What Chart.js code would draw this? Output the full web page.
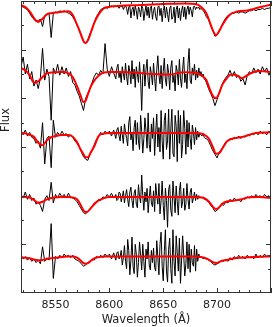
<!DOCTYPE html>
<html>
<head>
<meta charset="utf-8">
<script src="https://cdn.jsdelivr.net/npm/chart.js@4.4.1/dist/chart.umd.min.js"></script>
<style>
  html, body { margin: 0; padding: 0; background: #fff; }
  #wrap { width: 273px; height: 327px; }
</style>
</head>
<body>
<div id="wrap"><canvas id="spectraChart" width="273" height="327"></canvas></div>
<script>
// observed spectra: 2 A steps, 1 A steps through the noisy sky band
const waveGrid = [
  8518, 8520, 8522, 8524, 8526, 8528, 8530, 8532, 8534, 8536,
  8538, 8540, 8542, 8544, 8546, 8548, 8550, 8552, 8554, 8556,
  8558, 8560, 8562, 8564, 8566, 8568, 8570, 8572, 8574, 8576,
  8578, 8580, 8582, 8584, 8586, 8588, 8590, 8592, 8594, 8596,
  8598, 8600, 8602, 8604,
  8606, 8607, 8608, 8609, 8610, 8611, 8612, 8613, 8614, 8615,
  8616, 8617, 8618, 8619, 8620, 8621, 8622, 8623, 8624, 8625,
  8626, 8627, 8628, 8629, 8630, 8631, 8632, 8633, 8634, 8635,
  8636, 8637, 8638, 8639, 8640, 8641, 8642, 8643, 8644, 8645,
  8646, 8647, 8648, 8649, 8650, 8651, 8652, 8653, 8654, 8655,
  8656, 8657, 8658, 8659, 8660, 8661, 8662, 8663, 8664, 8665,
  8666, 8667, 8668, 8669, 8670, 8671, 8672, 8673, 8674, 8675,
  8676, 8677, 8678, 8679, 8680, 8681, 8682, 8683, 8684, 8685,
  8686, 8687, 8688, 8689, 8690,
  8692, 8694, 8696, 8698, 8700, 8702, 8704, 8706, 8708, 8710,
  8712, 8714, 8716, 8718, 8720, 8722, 8724, 8726, 8728, 8730,
  8732, 8734, 8736, 8738, 8740, 8742, 8744, 8746, 8748, 8750
];

const flux1 = [
  1.06, 1.05, 1.04, 1.03, 1.00, 0.97, 0.95, 0.93, 0.94, 0.95,
  0.89, 0.98, 0.99, 1.00, 0.80, 1.00, 1.01, 1.00, 1.02, 1.01,
  1.02, 1.01, 1.00, 0.99, 0.97, 0.94, 0.90, 0.86, 0.81, 0.77,
  0.75, 0.78, 0.83, 0.87, 0.92, 0.97, 1.00, 1.03, 1.04, 1.05,
  1.04, 1.05, 1.06, 1.05,
  1.06, 1.05, 1.06, 1.04, 1.06, 1.05, 1.06, 1.03, 1.05, 1.06,
  1.04, 0.99, 1.05, 1.06, 0.96, 1.03, 1.05, 0.98, 1.06, 1.02,
  0.95, 1.05, 1.03, 0.97, 1.06, 1.04, 0.94, 1.01, 1.06, 0.98,
  1.05, 0.96, 1.04, 1.06, 0.95, 1.02, 1.05, 0.97, 0.94, 1.05,
  1.06, 0.98, 1.04, 0.93, 1.02, 1.06, 0.96, 1.05, 0.99, 0.93,
  1.04, 1.06, 0.95, 0.97, 1.05, 0.92, 1.03, 1.06, 0.96, 1.04,
  0.94, 1.02, 1.06, 0.97, 1.05, 0.95, 1.03, 1.06, 0.99, 1.05,
  1.02, 0.97, 1.05, 1.06, 1.03, 1.05, 1.04, 1.05, 1.03, 1.04,
  1.03, 1.02, 1.01, 0.99, 0.97,
  0.95, 0.90, 0.86, 0.81, 0.82, 0.85, 0.89, 0.93, 0.96, 0.98,
  0.99, 1.00, 1.00, 1.01, 1.00, 1.01, 1.01, 1.00, 1.01, 1.02,
  1.02, 1.03, 1.02, 1.03, 1.03, 1.04, 1.03, 1.04, 1.04, 1.05
];

const flux2 = [
  1.06, 1.14, 1.00, 1.08, 0.96, 1.02, 0.90, 0.95, 0.88, 0.97,
  1.21, 0.95, 1.04, 0.98, 0.62, 1.05, 1.00, 1.08, 0.99, 1.06,
  1.00, 1.05, 0.98, 1.02, 0.93, 0.91, 0.86, 0.82, 0.76, 0.70,
  0.80, 0.84, 0.88, 0.93, 0.98, 1.01, 0.99, 1.03, 1.00, 1.25,
  1.04, 0.98, 1.06, 1.01,
  0.96, 1.05, 1.08, 0.97, 1.02, 0.93, 1.06, 1.00, 0.95, 1.09,
  0.98, 0.91, 1.07, 1.02, 0.92, 1.11, 0.96, 1.04, 0.89, 1.06,
  1.00, 0.93, 1.10, 0.95, 0.70, 0.99, 1.08, 0.90, 1.04, 1.12,
  0.94, 0.88, 1.06, 1.00, 0.91, 1.09, 0.97, 0.86, 1.04, 1.15,
  0.99, 0.92, 1.07, 0.88, 1.02, 1.13, 0.95, 0.90, 1.08, 1.01,
  0.87, 1.05, 1.11, 0.93, 0.99, 0.86, 1.07, 1.02, 0.91, 1.12,
  0.96, 0.89, 1.04, 1.14, 0.93, 1.00, 0.88, 1.09, 1.21, 0.95,
  0.92, 1.05, 0.99, 1.08, 0.95, 1.03, 0.97, 1.05, 0.99, 1.02,
  0.98, 1.00, 0.96, 0.95, 0.93,
  0.88, 0.84, 0.80, 0.74, 0.79, 0.85, 0.90, 0.94, 0.97, 0.99,
  1.03, 0.98, 1.02, 0.97, 0.99, 0.94, 0.96, 0.91, 0.99, 1.02,
  1.00, 1.05, 1.01, 1.04, 1.00, 1.06, 1.02, 1.05, 0.99, 1.03
];

const flux3 = [
  1.03, 1.00, 1.04, 0.99, 1.02, 0.98, 0.97, 0.93, 0.95, 0.89,
  1.10, 0.76, 0.97, 0.99, 0.73, 1.12, 0.98, 1.02, 0.99, 1.03,
  1.00, 1.01, 0.98, 1.00, 0.98, 0.95, 0.93, 0.90, 0.86, 0.82,
  0.80, 0.79, 0.84, 0.87, 0.92, 0.96, 0.99, 1.02, 1.00, 1.03,
  1.01, 1.03, 0.99, 1.04,
  0.97, 1.04, 1.06, 0.99, 0.95, 1.07, 1.00, 0.93, 1.09, 1.02,
  0.97, 0.91, 1.10, 1.15, 0.96, 1.01, 0.87, 1.06, 1.12, 0.92,
  1.10, 0.95, 0.88, 1.16, 1.03, 0.85, 0.97, 1.14, 1.03, 0.89,
  1.18, 0.92, 0.86, 1.09, 0.97, 1.14, 0.83, 1.02, 1.17, 0.90,
  1.06, 0.86, 1.20, 0.95, 0.80, 1.12, 1.18, 0.88, 0.95, 1.21,
  0.80, 1.04, 1.21, 0.85, 0.82, 1.16, 1.07, 0.78, 1.20, 0.93,
  1.16, 0.81, 0.92, 1.20, 1.05, 0.84, 1.12, 0.90, 1.10, 0.97,
  0.88, 1.08, 1.02, 0.92, 1.06, 0.96, 1.03, 0.98, 1.01, 1.00,
  0.99, 1.01, 0.98, 0.97, 0.97,
  0.95, 0.91, 0.87, 0.84, 0.81, 0.86, 0.88, 0.91, 0.94, 0.95,
  0.97, 0.96, 0.98, 0.97, 0.99, 0.97, 0.99, 0.98, 1.00, 0.99,
  1.01, 1.00, 1.02, 1.00, 1.03, 1.01, 1.02, 1.00, 1.03, 1.02
];

const flux4 = [
  1.01, 0.98, 1.03, 0.97, 1.01, 0.96, 0.98, 0.93, 0.95, 0.92,
  0.87, 0.97, 1.00, 0.96, 1.11, 0.94, 1.01, 0.98, 1.02, 0.99,
  1.01, 0.98, 1.02, 0.99, 0.98, 0.97, 0.95, 0.92, 0.89, 0.86,
  0.85, 0.87, 0.89, 0.91, 0.94, 0.95, 0.97, 0.96, 0.99, 0.98,
  1.01, 0.99, 1.02, 0.98,
  1.01, 0.96, 0.97, 1.03, 1.02, 0.95, 0.99, 1.04, 0.94, 1.00,
  1.05, 0.97, 0.91, 1.03, 1.07, 0.96, 0.90, 1.02, 1.05, 0.93,
  0.90, 1.09, 0.99, 0.94, 1.17, 1.00, 0.88, 1.03, 0.95, 1.06,
  0.86, 0.98, 1.08, 0.94, 0.91, 1.04, 0.87, 1.10, 1.00, 0.93,
  1.10, 0.85, 0.96, 1.12, 0.92, 0.80, 1.06, 0.96, 0.74, 1.05,
  1.09, 0.88, 0.83, 1.12, 0.99, 0.86, 1.08, 0.95, 0.84, 1.04,
  1.11, 0.90, 0.95, 1.06, 0.88, 0.93, 1.10, 0.97, 0.89, 1.03,
  1.06, 0.94, 0.98, 1.03, 0.96, 1.01, 0.97, 1.00, 0.98, 0.99,
  0.98, 0.99, 0.97, 0.97, 0.96,
  0.95, 0.92, 0.90, 0.87, 0.88, 0.90, 0.93, 0.92, 0.95, 0.94,
  0.97, 0.95, 0.98, 0.96, 0.97, 0.95, 0.98, 0.97, 0.99, 0.98,
  1.00, 0.98, 1.01, 0.99, 1.00, 0.98, 1.01, 0.99, 1.00, 0.98
];

const flux5 = [
  1.01, 0.98, 1.00, 0.97, 0.99, 0.96, 0.98, 0.95, 0.97, 0.94,
  1.08, 0.96, 0.99, 0.97, 1.27, 0.82, 1.00, 0.98, 1.01, 0.99,
  1.02, 1.00, 1.01, 0.99, 1.01, 0.98, 0.97, 0.96, 0.94, 0.92,
  0.93, 0.95, 0.96, 0.98, 0.97, 1.00, 0.99, 1.01, 0.99, 1.02,
  1.00, 1.02, 0.98, 1.03,
  0.97, 1.03, 1.04, 0.98, 1.00, 1.05, 0.93, 0.99, 1.09, 0.96,
  0.90, 1.14, 1.05, 0.85, 0.97, 1.16, 0.92, 0.86, 1.10, 1.02,
  0.83, 0.95, 1.12, 1.01, 0.89, 1.10, 0.96, 0.83, 1.06, 0.98,
  1.12, 0.93, 0.89, 1.05, 0.95, 1.07, 0.91, 0.88, 1.13, 0.99,
  0.85, 1.10, 1.20, 0.92, 0.80, 1.04, 1.22, 0.88, 0.79, 1.06,
  1.15, 0.90, 0.78, 1.22, 0.96, 0.84, 1.17, 1.03, 0.88, 1.15,
  0.78, 0.97, 1.17, 1.01, 0.84, 0.94, 1.12, 0.90, 1.10, 0.87,
  1.06, 0.95, 0.92, 1.09, 0.88, 1.06, 0.96, 1.02, 0.99, 1.00,
  0.99, 0.98, 0.99, 0.98, 0.98,
  0.97, 0.96, 0.94, 0.93, 0.94, 0.95, 0.97, 0.96, 0.98, 0.96,
  0.99, 0.97, 1.00, 0.98, 1.01, 0.99, 1.00, 0.98, 1.01, 0.99,
  1.00, 0.98, 1.02, 0.99, 1.01, 0.99, 1.02, 1.00, 1.01, 1.00
];

// fitted models (red)
const modelWave = [
  8518, 8522, 8526, 8530, 8534, 8538, 8542, 8546, 8550, 8556,
  8562, 8566, 8570, 8573, 8576, 8578, 8580, 8583, 8586, 8590,
  8595, 8600, 8610, 8625, 8640, 8655, 8670, 8680, 8686, 8690,
  8693, 8696, 8699, 8702, 8705, 8709, 8713, 8718, 8723, 8728,
  8734, 8740, 8745, 8750
];

const model1 = [
  1.067, 1.05, 1.015, 0.96, 0.928, 0.955, 0.99, 1.0, 1.005, 1.012,
  1.015, 0.985, 0.905, 0.84, 0.77, 0.755, 0.775, 0.845, 0.92, 0.99,
  1.04, 1.053, 1.06, 1.066, 1.072, 1.077, 1.08, 1.075, 1.045, 1.0,
  0.93, 0.86, 0.82, 0.855, 0.905, 0.96, 0.995, 1.012, 1.018, 1.022,
  1.035, 1.05, 1.06, 1.07
];

const model2 = [
  1.048, 1.03, 0.99, 0.93, 0.94, 0.975, 1.005, 1.012, 1.015, 1.016,
  1.005, 0.975, 0.9, 0.83, 0.77, 0.78, 0.83, 0.9, 0.945, 0.985,
  1.012, 1.016, 1.016, 1.01, 1.0, 0.995, 1.015, 1.01, 0.985, 0.95,
  0.88, 0.82, 0.8, 0.845, 0.915, 0.965, 0.995, 0.99, 0.966, 0.99,
  1.017, 1.024, 1.02, 1.016
];

const model3 = [
  1.015, 1.012, 1.0, 0.985, 0.935, 0.915, 0.955, 0.98, 0.99, 0.998,
  0.998, 0.985, 0.94, 0.885, 0.84, 0.815, 0.815, 0.86, 0.905, 0.99,
  1.01, 1.015, 1.015, 1.015, 1.015, 1.015, 1.015, 1.015, 1.01, 0.99,
  0.96, 0.9, 0.845, 0.85, 0.89, 0.945, 0.965, 0.975, 0.982, 0.995,
  1.012, 1.018, 1.02, 1.023
];

const model4 = [
  0.99, 0.99, 0.985, 0.965, 0.94, 0.95, 0.97, 0.98, 0.985, 0.99,
  0.99, 0.985, 0.97, 0.93, 0.88, 0.865, 0.87, 0.9, 0.93, 0.96,
  0.98, 0.99, 0.99, 0.99, 0.99, 0.99, 0.99, 0.99, 0.985, 0.97,
  0.945, 0.91, 0.89, 0.905, 0.935, 0.952, 0.958, 0.963, 0.97, 0.985,
  0.99, 0.99, 0.985, 0.98
];

const model5 = [
  0.993, 0.99, 0.985, 0.975, 0.97, 0.972, 0.98, 0.986, 0.99, 0.995,
  1.0, 1.0, 0.99, 0.97, 0.945, 0.94, 0.945, 0.965, 0.985, 0.995,
  1.0, 1.0, 1.0, 1.0, 1.0, 1.0, 1.0, 1.0, 0.995, 0.985,
  0.97, 0.955, 0.947, 0.955, 0.965, 0.972, 0.98, 0.988, 0.99, 0.993,
  0.995, 0.998, 1.0, 1.0
];

// vertical shift applied to each spectrum, top to bottom
const offsets = [1.3, 0.8, 0.3, -0.2, -0.7];
const spectra = [flux1, flux2, flux3, flux4, flux5];
const models = [model1, model2, model3, model4, model5];

const xTickLabels = [8550, 8600, 8650, 8700];

function toPoints(waves, values, shift) {
  return waves.map((w, i) => ({ x: w, y: values[i] + shift }));
}

const datasets = [];
models.forEach((m, k) => {
  datasets.push({
    data: toPoints(modelWave, m, offsets[k]),
    borderColor: "#ff0000",
    borderWidth: 2,
    pointRadius: 0,
    cubicInterpolationMode: "monotone",
    order: 0
  });
});
spectra.forEach((s, k) => {
  datasets.push({
    data: toPoints(waveGrid, s, offsets[k]),
    borderColor: "#000000",
    borderWidth: 1,
    pointRadius: 0,
    tension: 0,
    order: 1
  });
});

// frame, inward ticks on all four sides, and the y label
const frameTicks = {
  id: "frameTicks",
  afterDraw(chart) {
    const { ctx, chartArea: a, scales } = chart;
    const x = scales.x, y = scales.y;
    ctx.save();
    ctx.strokeStyle = "#333";
    ctx.lineWidth = 1;
    ctx.strokeRect(a.left + 0.5, a.top + 0.5, a.right - a.left - 1, a.bottom - a.top - 1);

    ctx.beginPath();
    for (let w = 8520; w <= 8750; w += 10) {
      const px = Math.round(x.getPixelForValue(w)) + 0.5;
      const len = w % 50 === 0 ? 5 : 3;
      ctx.moveTo(px, a.bottom); ctx.lineTo(px, a.bottom - len);
      ctx.moveTo(px, a.top); ctx.lineTo(px, a.top + len);
    }
    for (let k = 1; k < 12; k++) {
      const v = k * 0.2;
      const py = Math.round(y.getPixelForValue(v)) + 0.5;
      const len = k % 2 === 0 ? 5 : 3;
      ctx.moveTo(a.left, py); ctx.lineTo(a.left + len, py);
      ctx.moveTo(a.right, py); ctx.lineTo(a.right - len, py);
    }
    ctx.stroke();

    ctx.fillStyle = "#222";
    ctx.font = "11.5px 'DejaVu Sans'";
    ctx.textAlign = "center";
    ctx.textBaseline = "middle";
    ctx.translate(6.5, 120);
    ctx.rotate(-Math.PI / 2);
    ctx.fillText("Flux", 0, 0);
    ctx.restore();
  }
};

Chart.defaults.font.family = "'DejaVu Sans'";
Chart.defaults.color = "#222";

new Chart(document.getElementById("spectraChart"), {
  type: "line",
  data: { datasets },
  options: {
    responsive: false,
    animation: false,
    layout: { padding: { left: 21, right: 2, top: 1, bottom: 0 } },
    plugins: { legend: { display: false }, tooltip: { enabled: false } },
    scales: {
      x: {
        type: "linear",
        min: 8518,
        max: 8750,
        grid: { display: false, drawTicks: false },
        border: { display: false },
        afterBuildTicks: axis => { axis.ticks = xTickLabels.map(v => ({ value: v })); },
        afterFit: axis => { axis.height = 34; },
        ticks: {
          autoSkip: false,
          maxRotation: 0,
          padding: 6,
          font: { size: 11 },
          callback: v => String(v)
        },
        title: {
          display: true,
          text: "Wavelength (Å)",
          font: { size: 11.5 },
          padding: { top: 0, bottom: 0 }
        }
      },
      y: {
        display: false,
        min: 0,
        max: 2.4
      }
    }
  },
  plugins: [frameTicks]
});
</script>
</body>
</html>
